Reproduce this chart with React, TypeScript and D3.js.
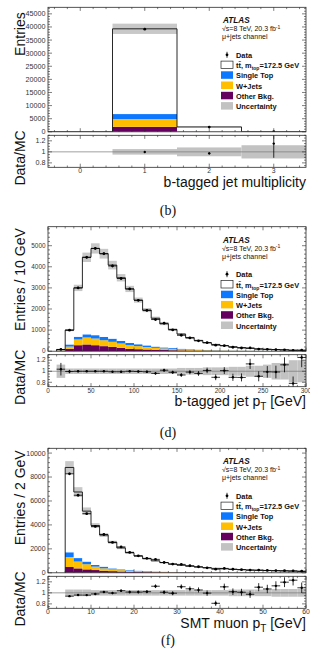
import React from 'react'
import * as d3 from 'd3'

const W = 310
const H = 648
const LEFT = 48
const RIGHT = 306
const MAIN_H = 124.5
const GAP = 3.5
const RATIO_H = 32
const RATIO_DOMAIN: [number, number] = [0.72, 1.3]

const FONT = '"Liberation Sans", Arial, Helvetica, sans-serif'
const SERIF = '"Liberation Serif", "Times New Roman", serif'

const COLORS = {
  other: '#66005e',
  wjets: '#ffbe00',
  single: '#0c78ff',
  unc: '#c2c2c2',
  frame: '#2a2a2a',
}

// b-tagged jet multiplicity
const nbEdges = [-0.5, 0.5, 1.5, 2.5, 3.5]
const nbOther = [0, 1900, 40, 0.4]
const nbWjets = [0, 2950, 50, 0.5]
const nbSingleTop = [0, 1920, 80, 0.5]
const nbTtbar = [0, 32520, 1680, 16]
const nbData = [0, 39170, 1800, 20]
const nbUnc = [0, 0.05, 0.08, 0.12]

// b-tagged jet pT, 10 GeV bins from 10 to 300
const ptEdges = d3.range(10, 301, 10)
const ptOther = [20, 110, 285, 320, 285, 240, 205, 160, 110, 95, 80, 65, 55, 45, 35, 28, 22, 18, 15, 12, 10, 8, 7, 6, 5, 4, 3, 3, 2]
const ptWjets = [20, 110, 270, 330, 315, 280, 240, 205, 175, 145, 120, 95, 75, 65, 50, 42, 33, 27, 21, 18, 14, 12, 9, 7, 6, 5, 4, 3, 3]
const ptSingleTop = [10, 100, 130, 150, 160, 160, 150, 125, 110, 90, 75, 60, 50, 40, 33, 25, 20, 16, 13, 10, 9, 7, 6, 5, 4, 3, 3, 2, 2]
const ptTtbar = [30, 680, 2315, 3650, 4110, 3940, 3485, 2990, 2555, 2090, 1675, 1340, 1120, 880, 692, 545, 435, 339, 271, 220, 177, 143, 113, 92, 75, 63, 50, 42, 33]
const ptData = [83, 995, 3000, 4450, 4870, 4620, 4040, 3445, 2950, 2410, 1930, 1500, 1325, 1010, 755, 630, 490, 406, 285, 263, 187, 151, 153, 100, 89, 74, 67, 39, 50]
const ptUnc = [0.12, 0.05, 0.05, 0.05, 0.05, 0.05, 0.05, 0.05, 0.05, 0.05, 0.05, 0.05, 0.05, 0.05, 0.06, 0.06, 0.06, 0.07, 0.07, 0.07, 0.08, 0.08, 0.1, 0.1, 0.12, 0.15, 0.15, 0.2, 0.2]

// SMT muon pT, 2 GeV bins from 4 to 60
const muEdges = d3.range(4, 61, 2)
const muOther = [485, 370, 285, 230, 170, 140, 110, 85, 70, 55, 45, 37, 31, 26, 22, 19, 17, 15, 13, 11, 10, 9, 8, 7, 6, 6, 5, 5]
const muWjets = [830, 570, 430, 285, 200, 145, 110, 85, 65, 50, 40, 33, 27, 23, 20, 17, 15, 13, 11, 10, 9, 8, 7, 6, 6, 5, 5, 4]
const muSingleTop = [400, 290, 225, 145, 145, 85, 70, 55, 45, 38, 32, 27, 23, 20, 17, 15, 13, 12, 10, 9, 8, 7, 6, 6, 5, 4, 4, 4]
const muTtbar = [7085, 5520, 4210, 3290, 2635, 2180, 1790, 1455, 1220, 1037, 883, 753, 649, 561, 491, 429, 375, 330, 296, 260, 233, 206, 184, 166, 148, 135, 121, 107]
const muData = [8270, 6480, 4940, 3870, 3200, 2540, 2160, 1705, 1420, 1205, 1120, 860, 725, 700, 590, 505, 418, 300, 366, 296, 263, 224, 226, 198, 186, 179, 166, 131]
const muUnc = [0.06, 0.06, 0.06, 0.05, 0.05, 0.05, 0.05, 0.05, 0.05, 0.05, 0.05, 0.05, 0.05, 0.05, 0.05, 0.05, 0.05, 0.05, 0.05, 0.06, 0.06, 0.06, 0.06, 0.06, 0.07, 0.07, 0.07, 0.07]

interface PanelCfg {
  id: string
  top: number
  edges: number[]
  other: number[]
  wjets: number[]
  single: number[]
  ttbar: number[]
  data: number[]
  unc: number[]
  xDomain: [number, number]
  xMajor: number
  xMinor: number
  yMax: number
  yMajor: number
  yMinor: number
  tickFont: number
  yTitle: string
  yTitleOff: number
  xTitle: React.ReactNode
  caption: string
  captionY: number
  xErr: boolean
}

interface Bin {
  lo: number
  hi: number
  other: number
  wjets: number
  single: number
  ttbar: number
  data: number
  unc: number
}

const KEYS = ['other', 'wjets', 'single', 'ttbar'] as const

const isMultiple = (v: number, step: number) => Math.abs(v / step - Math.round(v / step)) < 1e-6

function tickValues(domain: number[], step: number) {
  const start = Math.ceil(domain[0] / step - 1e-9)
  const end = Math.floor(domain[1] / step + 1e-9)
  return d3.range(start, end + 1).map(k => +(k * step).toFixed(6))
}

function Panel({ cfg }: { cfg: PanelCfg }) {
  const mainTop = cfg.top
  const mainBot = mainTop + MAIN_H
  const rTop = mainBot + GAP
  const rBot = rTop + RATIO_H

  const x = d3.scaleLinear().domain(cfg.xDomain).range([LEFT, RIGHT])
  const y = d3.scaleLinear().domain([0, cfg.yMax]).range([mainBot, mainTop])
  const yr = d3.scaleLinear().domain(RATIO_DOMAIN).range([rBot, rTop])

  const bins: Bin[] = cfg.ttbar.map((_, i) => ({
    lo: cfg.edges[i],
    hi: cfg.edges[i + 1],
    other: cfg.other[i],
    wjets: cfg.wjets[i],
    single: cfg.single[i],
    ttbar: cfg.ttbar[i],
    data: cfg.data[i],
    unc: cfg.unc[i],
  }))
  const stacked = d3.stack<Bin>().keys(KEYS as unknown as string[])(bins)
  const total = bins.map(b => b.other + b.wjets + b.single + b.ttbar)
  const fills: Record<string, string> = {
    other: COLORS.other,
    wjets: COLORS.wjets,
    single: COLORS.single,
    ttbar: '#ffffff',
  }

  // outline of the full stack as a step histogram
  const last = bins.length - 1
  const outlinePts: [number, number][] = [
    [bins[0].lo, 0],
    ...bins.map((b, i) => [b.lo, total[i]] as [number, number]),
    [bins[last].hi, total[last]],
    [bins[last].hi, 0],
  ]
  const outline = d3
    .line<[number, number]>()
    .x(d => x(d[0]))
    .y(d => y(d[1]))
    .curve(d3.curveStepAfter)(outlinePts)

  const xMinorVals = tickValues(cfg.xDomain, cfg.xMinor)
  const xMajorVals = tickValues(cfg.xDomain, cfg.xMajor)
  const yMinorVals = tickValues([0, cfg.yMax], cfg.yMinor)
  const yMajorVals = tickValues([0, cfg.yMax], cfg.yMajor)
  const rMinorVals = tickValues(RATIO_DOMAIN, 0.05)
  const rMajorVals = [0.8, 1, 1.2]

  const tickStroke = { stroke: COLORS.frame, strokeWidth: 0.6 }
  const clipMain = `clip-main-${cfg.id}`
  const clipRatio = `clip-ratio-${cfg.id}`

  const lx = 221
  const tx = 236
  const legendRows = [
    { key: 'data', off: 50.5 },
    { key: 'ttbar', off: 60.8 },
    { key: 'single', off: 71 },
    { key: 'wjets', off: 81.2 },
    { key: 'other', off: 91.5 },
    { key: 'unc', off: 101.8 },
  ]
  const legendFont = 7.4

  return (
    <g>
      <defs>
        <clipPath id={clipMain}>
          <rect x={LEFT} y={mainTop} width={RIGHT - LEFT} height={MAIN_H} />
        </clipPath>
        <clipPath id={clipRatio}>
          <rect x={LEFT} y={rTop} width={RIGHT - LEFT} height={RATIO_H} />
        </clipPath>
      </defs>

      {/* main panel */}
      <g clipPath={`url(#${clipMain})`}>
        {stacked.map(layer => (
          <g key={layer.key} fill={fills[layer.key]}>
            {layer.map((d, i) =>
              d[1] - d[0] > 0 ? (
                <rect
                  key={i}
                  x={x(bins[i].lo)}
                  width={x(bins[i].hi) - x(bins[i].lo)}
                  y={y(d[1])}
                  height={y(d[0]) - y(d[1])}
                />
              ) : null
            )}
          </g>
        ))}
        {bins.map((b, i) =>
          total[i] > 0 ? (
            <rect
              key={`u${i}`}
              x={x(b.lo)}
              width={x(b.hi) - x(b.lo)}
              y={y(total[i] * (1 + b.unc))}
              height={y(total[i] * (1 - b.unc)) - y(total[i] * (1 + b.unc))}
              fill={COLORS.unc}
              opacity={0.9}
            />
          ) : null
        )}
        <path d={outline ?? ''} fill="none" stroke="#111" strokeWidth={0.9} />
        {bins.map((b, i) => {
          if (b.data <= 0) return null
          const cx = x((b.lo + b.hi) / 2)
          const err = Math.sqrt(b.data)
          return (
            <g key={`d${i}`} stroke="#000" strokeWidth={0.8}>
              <line x1={cx} x2={cx} y1={y(b.data + err)} y2={y(b.data - err)} />
              {cfg.xErr && <line x1={x(b.lo)} x2={x(b.hi)} y1={y(b.data)} y2={y(b.data)} />}
              <circle cx={cx} cy={y(b.data)} r={1.4} fill="#000" stroke="none" />
            </g>
          )
        })}
      </g>

      {/* ratio panel */}
      <g clipPath={`url(#${clipRatio})`}>
        {bins.map((b, i) =>
          total[i] > 0 ? (
            <rect
              key={`ru${i}`}
              x={x(b.lo)}
              width={x(b.hi) - x(b.lo)}
              y={yr(1 + b.unc)}
              height={yr(1 - b.unc) - yr(1 + b.unc)}
              fill={COLORS.unc}
            />
          ) : null
        )}
        <line x1={LEFT} x2={RIGHT} y1={yr(1)} y2={yr(1)} stroke="#777" strokeWidth={0.7} />
        {bins.map((b, i) => {
          if (b.data <= 0 || total[i] <= 0) return null
          const r = b.data / total[i]
          const e = Math.sqrt(b.data) / total[i]
          const cx = x((b.lo + b.hi) / 2)
          return (
            <g key={`r${i}`} stroke="#000" strokeWidth={0.8}>
              <line x1={cx} x2={cx} y1={yr(r + e)} y2={yr(r - e)} />
              {cfg.xErr && <line x1={x(b.lo)} x2={x(b.hi)} y1={yr(r)} y2={yr(r)} />}
              <circle cx={cx} cy={yr(r)} r={1.2} fill="#000" stroke="none" />
            </g>
          )
        })}
      </g>

      {/* frames */}
      <rect x={LEFT} y={mainTop} width={RIGHT - LEFT} height={MAIN_H} fill="none" stroke={COLORS.frame} strokeWidth={0.8} />
      <rect x={LEFT} y={rTop} width={RIGHT - LEFT} height={RATIO_H} fill="none" stroke={COLORS.frame} strokeWidth={0.8} />

      {/* x ticks on both pads, y ticks on both sides */}
      <g {...tickStroke}>
        {xMinorVals.map(v => {
          const len = isMultiple(v, cfg.xMajor) ? 3.6 : 1.8
          const px = x(v)
          return (
            <g key={`xt${v}`}>
              <line x1={px} x2={px} y1={mainBot} y2={mainBot - len} />
              <line x1={px} x2={px} y1={mainTop} y2={mainTop + len} />
              <line x1={px} x2={px} y1={rBot} y2={rBot - len} />
              <line x1={px} x2={px} y1={rTop} y2={rTop + len} />
            </g>
          )
        })}
        {yMinorVals.map(v => {
          const len = isMultiple(v, cfg.yMajor) ? 4 : 2
          const py = y(v)
          return (
            <g key={`yt${v}`}>
              <line x1={LEFT} x2={LEFT + len} y1={py} y2={py} />
              <line x1={RIGHT} x2={RIGHT - len} y1={py} y2={py} />
            </g>
          )
        })}
        {rMinorVals.map(v => {
          const len = isMultiple(v, 0.2) ? 4 : 2
          const py = yr(v)
          return (
            <g key={`rt${v}`}>
              <line x1={LEFT} x2={LEFT + len} y1={py} y2={py} />
              <line x1={RIGHT} x2={RIGHT - len} y1={py} y2={py} />
            </g>
          )
        })}
      </g>

      {/* tick labels */}
      <g fontFamily={FONT} fontSize={cfg.tickFont} fill="#333">
        {yMajorVals.map(v => (
          <text key={`yl${v}`} x={LEFT - 2.5} y={y(v)} dy="0.35em" textAnchor="end">
            {v}
          </text>
        ))}
        {rMajorVals.map(v => (
          <text key={`rl${v}`} x={LEFT - 2.5} y={yr(v)} dy="0.35em" textAnchor="end">
            {v}
          </text>
        ))}
        {xMajorVals.map(v => (
          <text key={`xl${v}`} x={x(v)} y={rBot + 6} fontSize={Math.min(cfg.tickFont, 6.8)} textAnchor="middle">
            {v}
          </text>
        ))}
      </g>

      {/* axis titles */}
      <g fontFamily={FONT} fontSize={14} fill="#111">
        <text transform={`translate(25,${mainTop + cfg.yTitleOff}) rotate(-90)`} textAnchor="end">
          {cfg.yTitle}
        </text>
        <text transform={`translate(25,${rTop - 5}) rotate(-90)`} textAnchor="end">
          Data/MC
        </text>
        <text x={RIGHT} y={rBot + 19.5} textAnchor="end">
          {cfg.xTitle}
        </text>
      </g>

      {/* ATLAS label and legend */}
      <g fontFamily={FONT} fill="#111">
        <text x={223} y={mainTop + 16} fontSize={8.2} fontWeight="bold" fontStyle="italic">
          ATLAS
        </text>
        <text x={222} y={mainTop + 24} fontSize={7}>
          √s=8 TeV, 20.3 fb<tspan dy={-2.5} fontSize={5}>-1</tspan>
        </text>
        <text x={222} y={mainTop + 32} fontSize={7}>
          μ+jets channel
        </text>
        {legendRows.map(row => {
          const by = mainTop + row.off
          let marker: React.ReactNode = null
          let label: React.ReactNode = null
          if (row.key === 'data') {
            marker = (
              <g>
                <line x1={lx + 6} x2={lx + 6} y1={by - 6} y2={by} stroke="#000" strokeWidth={0.8} />
                <circle cx={lx + 6} cy={by - 3} r={1.4} fill="#000" />
              </g>
            )
            label = 'Data'
          } else if (row.key === 'ttbar') {
            marker = <rect x={lx} y={by - 7} width={12} height={7.5} fill="#fff" stroke="#222" strokeWidth={0.7} />
            label = (
              <>
                t{'t\u0304'}, m<tspan dy={2} fontSize={5}>top</tspan>
                <tspan dy={-2}>=172.5 GeV</tspan>
              </>
            )
          } else {
            const fill = row.key === 'unc' ? COLORS.unc : fills[row.key]
            marker = <rect x={lx} y={by - 7} width={12} height={7.5} fill={fill} />
            label =
              row.key === 'single' ? 'Single Top' : row.key === 'wjets' ? 'W+Jets' : row.key === 'other' ? 'Other Bkg.' : 'Uncertainty'
          }
          return (
            <g key={row.key}>
              {marker}
              <text x={tx} y={by} fontSize={legendFont} fontWeight="bold">
                {label}
              </text>
            </g>
          )
        })}
      </g>

      <text x={168} y={cfg.captionY} fontFamily={SERIF} fontSize={14} textAnchor="middle" fill="#111">
        {cfg.caption}
      </text>
    </g>
  )
}

const panels: PanelCfg[] = [
  {
    id: 'nb',
    top: 7.3,
    edges: nbEdges,
    other: nbOther,
    wjets: nbWjets,
    single: nbSingleTop,
    ttbar: nbTtbar,
    data: nbData,
    unc: nbUnc,
    xDomain: [-0.5, 3.5],
    xMajor: 1,
    xMinor: 0.2,
    yMax: 47500,
    yMajor: 5000,
    yMinor: 1000,
    tickFont: 7.2,
    yTitle: 'Entries',
    yTitleOff: 5,
    xTitle: 'b-tagged jet multiplicity',
    caption: '(b)',
    captionY: 215,
    xErr: false,
  },
  {
    id: 'pt',
    top: 226.7,
    edges: ptEdges,
    other: ptOther,
    wjets: ptWjets,
    single: ptSingleTop,
    ttbar: ptTtbar,
    data: ptData,
    unc: ptUnc,
    xDomain: [0, 300],
    xMajor: 50,
    xMinor: 10,
    yMax: 5900,
    yMajor: 1000,
    yMinor: 200,
    tickFont: 6.4,
    yTitle: 'Entries / 10 GeV',
    yTitleOff: 1.5,
    xTitle: (
      <>
        b-tagged jet p<tspan dy={4} fontSize={10}>T</tspan>
        <tspan dy={-4}> [GeV]</tspan>
      </>
    ),
    caption: '(d)',
    captionY: 437,
    xErr: true,
  },
  {
    id: 'mu',
    top: 448.3,
    edges: muEdges,
    other: muOther,
    wjets: muWjets,
    single: muSingleTop,
    ttbar: muTtbar,
    data: muData,
    unc: muUnc,
    xDomain: [0, 60],
    xMajor: 10,
    xMinor: 2,
    yMax: 10400,
    yMajor: 2000,
    yMinor: 400,
    tickFont: 6.9,
    yTitle: 'Entries / 2 GeV',
    yTitleOff: 2,
    xTitle: (
      <>
        SMT muon p<tspan dy={4} fontSize={10}>T</tspan>
        <tspan dy={-4}> [GeV]</tspan>
      </>
    ),
    caption: '(f)',
    captionY: 645,
    xErr: true,
  },
]

export default function App() {
  return (
    <svg
      width={W}
      height={H}
      viewBox={`0 0 ${W} ${H}`}
      style={{ position: 'absolute', left: 0, top: 0, background: '#fff', display: 'block' }}
    >
      <rect width={W} height={H} fill="#fff" />
      {panels.map(p => (
        <Panel key={p.id} cfg={p} />
      ))}
    </svg>
  )
}
